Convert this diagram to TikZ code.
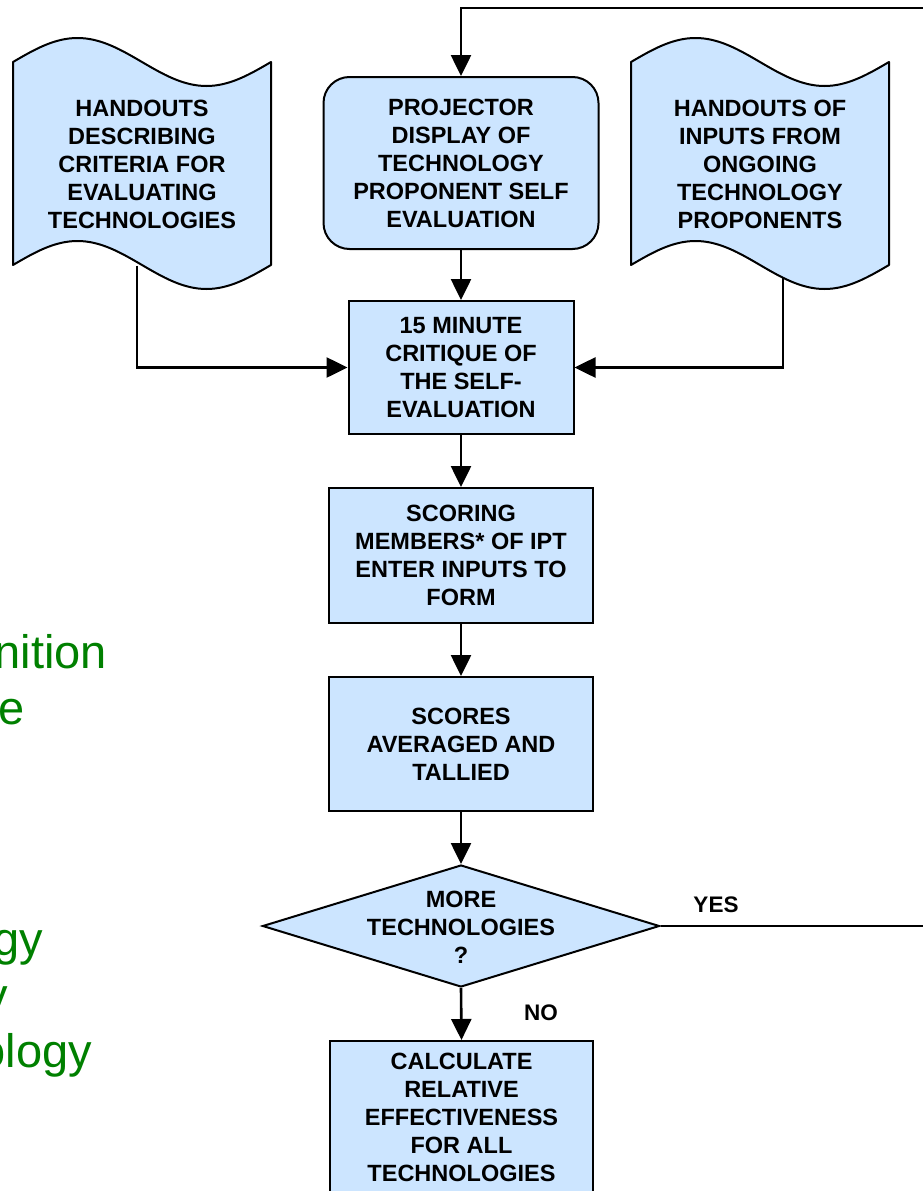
\documentclass[tikz,border=0pt]{standalone}
\usepackage{fontspec}
\setmainfont{Liberation Sans}
\usetikzlibrary{arrows.meta,shapes.geometric}
\pgfdeclarelayer{back}
\pgfsetlayers{back,main}
\definecolor{boxfill}{RGB}{204,229,255}
\definecolor{notegreen}{RGB}{0,128,0}

\begin{document}
\begin{tikzpicture}[x=1pt,y=-1pt,
  every node/.style={font=\fontsize{23.5}{28}\selectfont\bfseries, align=center, inner sep=0pt},
  procbox/.style={draw, fill=boxfill, line width=2pt},
  roundbox/.style={procbox, rounded corners=26pt},
  tape/.style={draw, fill=boxfill, line width=2pt, line join=round},
  decision/.style={procbox, diamond},
  conn/.style={line width=2.6pt, -{Triangle[length=21pt,width=20pt]}},
  flowlabel/.style={font=\fontsize{22.5}{27}\selectfont\bfseries},
  sidenote/.style={font=\fontsize{47}{56}\selectfont, text=notegreen, anchor=base east, align=left}
]
\useasboundingbox (0,0) rectangle (923,1191);

% paper-tape handouts
\draw[tape] (13,62) sin (77.5,38) cos (142,62) sin (206.5,86) cos (271,62)
  -- (271,265) sin (206.5,289) cos (142,265) sin (77.5,241) cos (13,265) -- cycle;
\draw[tape] (631,62) sin (695.5,38) cos (760,62) sin (824.5,86) cos (889,62)
  -- (889,265) sin (824.5,289) cos (760,265) sin (695.5,241) cos (631,265) -- cycle;

\node[minimum width=258pt, minimum height=203pt] (hd1) at (142,164)
  {HANDOUTS\\DESCRIBING\\CRITERIA FOR\\EVALUATING\\TECHNOLOGIES};
\node[minimum width=258pt, minimum height=203pt] (hd2) at (760,164)
  {HANDOUTS OF\\INPUTS FROM\\ONGOING\\TECHNOLOGY\\PROPONENTS};

% process steps
\node[roundbox, minimum width=275pt, minimum height=172pt] (proj) at (461,163)
  {PROJECTOR\\DISPLAY OF\\TECHNOLOGY\\PROPONENT SELF\\EVALUATION};
\node[procbox, minimum width=225pt, minimum height=133pt] (crit) at (461,367.5)
  {15 MINUTE\\CRITIQUE OF\\THE SELF-\\EVALUATION};
\node[procbox, minimum width=264pt, minimum height=135pt] (score) at (461,555.5)
  {SCORING\\MEMBERS* OF IPT\\ENTER INPUTS TO\\FORM};
\node[procbox, minimum width=264pt, minimum height=134pt] (tally) at (461,744)
  {SCORES\\AVERAGED AND\\TALLIED};
\node[decision, minimum width=397pt, minimum height=122pt] (dec) at (461,926) {};
\node (dectext) at (461,927) {MORE\\TECHNOLOGIES\\?};
\node[procbox, minimum width=263pt, minimum height=153pt] (calc) at (461.5,1117.5)
  {CALCULATE\\RELATIVE\\EFFECTIVENESS\\FOR ALL\\TECHNOLOGIES};

% branch labels
\node[flowlabel] (yes) at (716,905) {YES};
\node[flowlabel] (no) at (541,1013) {NO};

% loop-back corner lies just past the right edge
\coordinate (loopB) at (935,926);
\coordinate (loopT) at (935,8);

% connectors
\begin{pgfonlayer}{back}
\draw[conn] (dec.east) -- (loopB) -- (loopT) -| (proj.north);
\draw[conn] (proj.south) -- (crit.north);
\draw[conn] (crit.south) -- (score.north);
\draw[conn] (score.south) -- (tally.north);
\draw[conn] (tally.south) -- (dec.north);
\draw[conn] (dec.south) -- (calc.north);
\draw[conn] ([xshift=-5pt]hd1.south) |- (crit.west);
\draw[conn] ([xshift=23pt]hd2.south) |- (crit.east);
\end{pgfonlayer}

% green side notes running in from the left edge
\node[sidenote] (n1) at (107,668) {nition};
\node[sidenote] (n2) at (25,724) {e};
\node[sidenote] (n3) at (43,955) {gy};
\node[sidenote] (n4) at (8,1011) {y};
\node[sidenote] (n5) at (92,1067) {ology};
\end{tikzpicture}
\end{document}
